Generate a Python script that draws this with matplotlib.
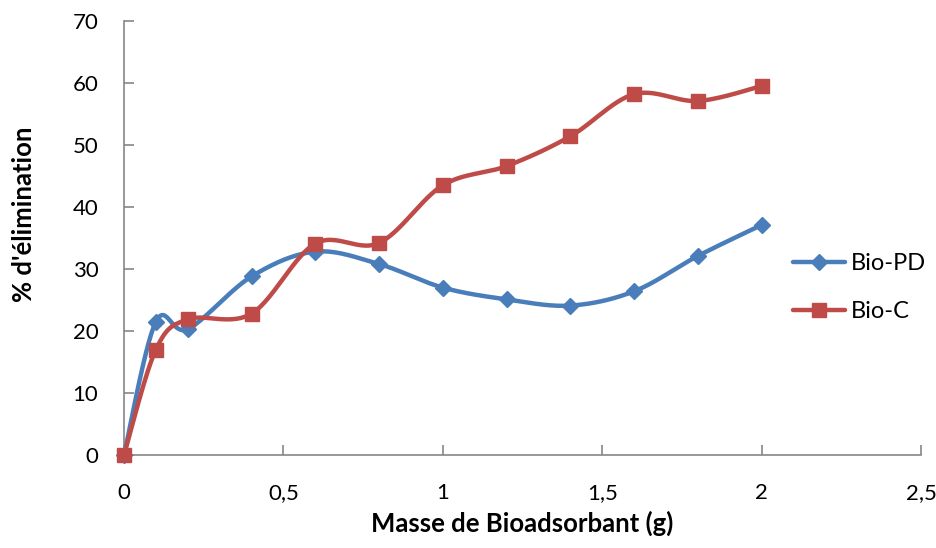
import numpy as np
import matplotlib.pyplot as plt

plt.rcParams['font.family'] = ['Lato', 'DejaVu Sans']

# données
masse = [0, 0.1, 0.2, 0.4, 0.6, 0.8, 1.0, 1.2, 1.4, 1.6, 1.8, 2.0]
bio_pd = [0, 21.5, 20.3, 28.8, 32.8, 30.8, 27.0, 25.1, 24.1, 26.4, 32.1, 37.1]
bio_c = [0, 17.0, 21.9, 22.8, 34.1, 34.2, 43.5, 46.6, 51.4, 58.2, 57.1, 59.5]

xmax, ymax = 2.5, 70
W, H = 937, 548
ax_box = [124 / W, 93 / H, 797 / W, 434 / H]


def lissage(x, y, n=30):
    # courbe lissée type Excel (Catmull-Rom en Bezier), calculée en pixels
    sx = 797 / xmax
    sy = 434 / ymax
    p = np.column_stack([np.array(x) * sx, np.array(y) * sy])
    pts = np.vstack([p[0], p, p[-1]])
    out = []
    t = np.linspace(0, 1, n)[:, None]
    for i in range(1, len(pts) - 2):
        p0, p1, p2, p3 = pts[i - 1], pts[i], pts[i + 1], pts[i + 2]
        c1 = p1 + (p2 - p0) / 6
        c2 = p2 - (p3 - p1) / 6
        seg = ((1 - t) ** 3) * p1 + 3 * ((1 - t) ** 2) * t * c1 + 3 * (1 - t) * t ** 2 * c2 + t ** 3 * p2
        out.append(seg)
    out = np.vstack(out)
    return out[:, 0] / sx, out[:, 1] / sy


fig = plt.figure(figsize=(W / 100, H / 100), dpi=100)
ax = fig.add_axes(ax_box)

bleu = '#4a7ebb'
rouge = '#be4b48'

xs, ys = lissage(masse, bio_pd)
ax.plot(xs, ys, color=bleu, lw=3.2, solid_capstyle='round', zorder=3, clip_on=False)
ax.plot(masse, bio_pd, ls='none', marker='D', ms=8.5, color=bleu, zorder=4, clip_on=False)
xs, ys = lissage(masse, bio_c)
ax.plot(xs, ys, color=rouge, lw=3.2, solid_capstyle='round', zorder=3, clip_on=False)
ax.plot(masse, bio_c, ls='none', marker='s', ms=10, color=rouge, zorder=4, clip_on=False)

# légende
h1, = ax.plot([], [], color=bleu, lw=3.2, marker='D', ms=8.5, solid_capstyle='round')
h2, = ax.plot([], [], color=rouge, lw=3.2, marker='s', ms=10, solid_capstyle='round')
ax.legend([h1, h2], ['Bio-PD', 'Bio-C'], loc='center left', bbox_to_anchor=(0.84, 0.386),
          frameon=False, fontsize=17, handlelength=2.2, labelspacing=1.15, handletextpad=0.25,
          borderpad=0, borderaxespad=0)

ax.set_xlim(0, xmax)
ax.set_ylim(0, ymax)
ax.set_xticks([0, 0.5, 1, 1.5, 2, 2.5])
ax.set_xticklabels(['0', '0,5', '1', '1,5', '2', '2,5'])
ax.set_yticks(range(0, 71, 10))
for s in ['top', 'right']:
    ax.spines[s].set_visible(False)
for s in ['left', 'bottom']:
    ax.spines[s].set_color('#868686')
    ax.spines[s].set_linewidth(1.2)
ax.tick_params(direction='in', length=7, width=1.2, color='#868686', labelsize=16)
ax.tick_params(axis='x', pad=20)
ax.tick_params(axis='y', pad=18.5)
ax.set_xlabel('Masse de Bioadsorbant (g)', fontsize=18.5, fontweight='bold', va='top')
ax.set_ylabel("% d'élimination", fontsize=18.5, fontweight='bold', va='bottom')
ax.xaxis.set_label_coords(0.5, -0.128)
ax.yaxis.set_label_coords(-0.111, 0.555)

fig.savefig('out.png', dpi=100)
